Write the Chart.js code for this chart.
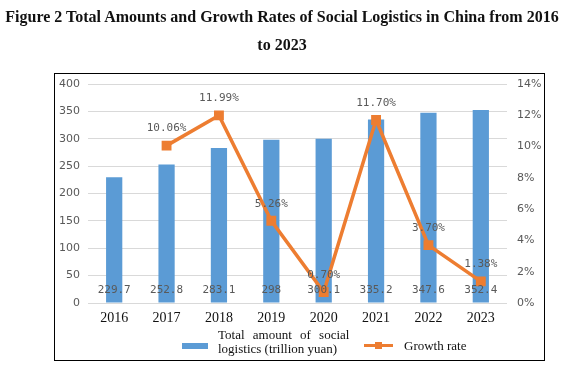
<!DOCTYPE html>
<html>
<head>
<meta charset="utf-8">
<script src="https://cdn.jsdelivr.net/npm/chart.js@4"></script>
<style>
  body { margin: 0; background: #fff; }
  #title {
    position: absolute; left: 0; top: 3px; width: 564px;
    text-align: center; font: bold 16px "Liberation Serif", serif;
    line-height: 28px; color: #111; white-space: nowrap;
  }
  #wrap { position: absolute; left: 0; top: 0; width: 564px; height: 372px; }
  #legend {
    position: absolute; left: 0; top: 326px; width: 564px; height: 30px;
    font: 13px "Liberation Serif", serif; color: #111;
  }
  .lg-item { position: absolute; white-space: nowrap; line-height: 14px; }
</style>
</head>
<body>
<div id="wrap"><canvas id="chart" width="564" height="372"></canvas></div>
<div id="title">Figure 2 Total Amounts and Growth Rates of Social Logistics in China from 2016<br>to 2023</div>
<div id="legend"></div>
<script>
const years = ["2016", "2017", "2018", "2019", "2020", "2021", "2022", "2023"];
const totalAmount = [229.7, 252.8, 283.1, 298, 300.1, 335.2, 347.6, 352.4];
const growthRate = [null, 10.06, 11.99, 5.26, 0.70, 11.70, 3.70, 1.38];
const barLabel = ["Total amount of social", "logistics (trillion yuan)"];
const lineLabel = "Growth rate";

const BAR_COLOR = "#5B9BD5";
const LINE_COLOR = "#ED7D31";
const GRAY = "#595959";

// border box + value labels
const extras = {
  id: "extras",
  beforeDraw(chart) {
    const c = chart.ctx;
    c.save();
    c.strokeStyle = "#000";
    c.lineWidth = 1;
    c.strokeRect(54.5, 73.5, 490, 287);
    c.restore();
  },
  afterDatasetsDraw(chart) {
    const c = chart.ctx;
    c.save();
    c.font = "11px 'DejaVu Sans Mono', monospace";
    c.fillStyle = GRAY;
    c.textAlign = "center";
    c.textBaseline = "middle";
    const y0 = chart.scales.y.getPixelForValue(0);
    chart.getDatasetMeta(0).data.forEach((bar, i) => {
      c.fillText(String(totalAmount[i]), bar.x, y0 - 13);
    });
    chart.getDatasetMeta(1).data.forEach((pt, i) => {
      if (growthRate[i] == null) return;
      c.fillText(growthRate[i].toFixed(2) + "%", pt.x, pt.y - 17);
    });
    c.restore();
  }
};

new Chart(document.getElementById("chart"), {
  type: "bar",
  data: {
    labels: years,
    datasets: [
      {
        type: "bar",
        label: barLabel.join(" "),
        data: totalAmount,
        backgroundColor: BAR_COLOR,
        yAxisID: "y",
        barPercentage: 0.31,
        categoryPercentage: 1,
        order: 2
      },
      {
        type: "line",
        label: lineLabel,
        data: growthRate,
        borderColor: LINE_COLOR,
        backgroundColor: LINE_COLOR,
        borderWidth: 3.5,
        pointStyle: "rect",
        pointRadius: 4.5,
        pointHoverRadius: 4.5,
        tension: 0,
        yAxisID: "y1",
        order: 1
      }
    ]
  },
  options: {
    responsive: false,
    animation: false,
    layout: { padding: { left: 54, right: 20, top: 84, bottom: 12 } },
    plugins: { legend: { display: false }, tooltip: { enabled: false } },
    scales: {
      x: {
        grid: { display: false, drawTicks: false },
        border: { display: false },
        ticks: { color: "#111", padding: 7, font: { family: "Liberation Serif", size: 14 } },
        afterFit(s) { s.height = 57; }
      },
      y: {
        position: "left",
        min: 0, max: 400,
        ticks: { stepSize: 50, color: GRAY, padding: 8, font: { family: "DejaVu Sans", size: 11 } },
        grid: { color: "#d9d9d9", drawTicks: false },
        border: { display: false },
        afterFit(s) { s.width = 34; }
      },
      y1: {
        position: "right",
        min: 0, max: 14,
        ticks: {
          stepSize: 2, color: GRAY, padding: 10,
          font: { family: "DejaVu Sans", size: 11 },
          callback: (v) => v + "%"
        },
        grid: { display: false, drawTicks: false },
        border: { display: false },
        afterFit(s) { s.width = 37; }
      }
    }
  },
  plugins: [extras]
});

// legend
const lg = document.getElementById("legend");
lg.innerHTML =
  '<div class="lg-item" style="left:182px;top:17px;width:26px;height:6px;background:' + BAR_COLOR + '"></div>' +
  '<div class="lg-item" style="left:218px;top:2px;word-spacing:5px">' + barLabel[0] + '</div>' +
  '<div class="lg-item" style="left:218px;top:16px">' + barLabel[1] + '</div>' +
  '<div class="lg-item" style="left:364px;top:18px;width:29px;height:3px;background:' + LINE_COLOR + '"></div>' +
  '<div class="lg-item" style="left:375px;top:16px;width:7px;height:7px;background:' + LINE_COLOR + '"></div>' +
  '<div class="lg-item" style="left:404px;top:13px">' + lineLabel + '</div>';
</script>
</body>
</html>
